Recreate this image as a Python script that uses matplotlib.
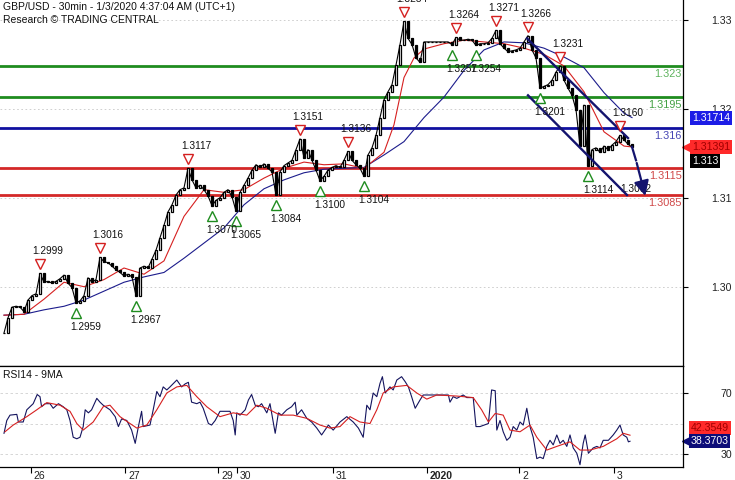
import matplotlib
matplotlib.use("Agg")
import matplotlib.pyplot as plt
import matplotlib.transforms as mtransforms
import numpy as np

plt.rcParams['font.family'] = ['Liberation Sans', 'DejaVu Sans']

# GBP/USD closes, one per hour, Dec 25 evening -> Jan 3 04:30
closes = [1.2930, 1.2947, 1.2959, 1.2960, 1.2959, 1.2954, 1.2967, 1.2972, 1.2974, 1.2997,
          1.2987, 1.2988, 1.2986, 1.2988, 1.2991, 1.2995, 1.2986, 1.2981, 1.2964, 1.2966,
          1.2972, 1.2992, 1.2987, 1.2990, 1.3015, 1.3010, 1.3009, 1.3005, 1.3001, 1.2998,
          1.2994, 1.2996, 1.2993, 1.2972, 1.3003, 1.3005, 1.3003, 1.3013, 1.3023, 1.3037,
          1.3051, 1.3066, 1.3074, 1.3085, 1.3091, 1.3093, 1.3115, 1.3102, 1.3093, 1.3096,
          1.3091, 1.3084, 1.3073, 1.3079, 1.3082, 1.3088, 1.3091, 1.3083, 1.3067, 1.3088,
          1.3096, 1.3104, 1.3113, 1.3119, 1.3116, 1.3120, 1.3115, 1.3111, 1.3085, 1.3111,
          1.3118, 1.3121, 1.3124, 1.3136, 1.3148, 1.3127, 1.3136, 1.3124, 1.3113, 1.3101,
          1.3106, 1.3113, 1.3116, 1.3118, 1.3116, 1.3124, 1.3134, 1.3124, 1.3119, 1.3115,
          1.3106, 1.3130, 1.3138, 1.3152, 1.3172, 1.3192, 1.3201, 1.3209, 1.3231, 1.3254,
          1.3280, 1.3261, 1.3254, 1.3239, 1.3234, 1.3257, 1.3257, 1.3257, 1.3257, 1.3257,
          1.3257, 1.3257, 1.3254, 1.3262, 1.3259, 1.3259, 1.3260, 1.3259, 1.3253, 1.3255,
          1.3255, 1.3256, 1.3261, 1.3270, 1.3255, 1.3250, 1.3246, 1.3247, 1.3248, 1.3250,
          1.3257, 1.3264, 1.3248, 1.3239, 1.3205, 1.3207, 1.3209, 1.3214, 1.3223, 1.3230,
          1.3214, 1.3205, 1.3197, 1.3181, 1.3140, 1.3186, 1.3118, 1.3136, 1.3138, 1.3133,
          1.3140, 1.3136, 1.3141, 1.3145, 1.3152, 1.3147, 1.3142, 1.3139]

# moving averages (red = fast, blue = slow)
ma_fast_x = [0, 5, 10, 15, 20, 25, 30, 35, 40, 45, 50, 55, 60, 65, 70, 75, 80, 85, 90, 95,
             97.5, 100, 102.5, 105, 110, 115, 120, 125, 130, 135, 140, 145, 150, 155, 157]
ma_fast = [1.2950, 1.2951, 1.2968, 1.2987, 1.2982, 1.2990, 1.3003, 1.2996, 1.3011, 1.3061,
           1.3091, 1.3088, 1.3091, 1.3104, 1.3115, 1.3122, 1.3119, 1.3120, 1.3115, 1.3133,
           1.3164, 1.3217, 1.3239, 1.3249, 1.3255, 1.3259, 1.3257, 1.3255, 1.3250, 1.3243,
           1.3230, 1.3201, 1.3156, 1.3140, 1.3139]
ma_slow_x = [0, 5, 10, 15, 20, 25, 30, 35, 40, 45, 50, 55, 60, 65, 70, 75, 80, 85, 90, 95,
             100, 105, 110, 115, 120, 125, 130, 135, 140, 145, 150, 155, 157]
ma_slow = [1.2950, 1.2951, 1.2956, 1.2960, 1.2967, 1.2977, 1.2987, 1.2993, 1.2998, 1.3014,
           1.3031, 1.3048, 1.3074, 1.3092, 1.3102, 1.3110, 1.3114, 1.3115, 1.3116, 1.3130,
           1.3145, 1.3172, 1.3195, 1.3225, 1.3248, 1.3257, 1.3256, 1.3250, 1.3240, 1.3228,
           1.3200, 1.3177, 1.3172]

# support / resistance levels
levels = [1.323, 1.3195, 1.316, 1.3115, 1.3085]
level_labels = ['1.323', '1.3195', '1.316', '1.3115', '1.3085']
level_colors = ['#1f8c1f', '#1f8c1f', '#1010a0', '#d42828', '#d42828']
level_text_colors = ['#5cb25c', '#44a044', '#4646b4', '#d04848', '#d04848']

# swing highs / lows: bar index, label
highs_idx = [9, 24, 46, 74, 86, 100, 113, 123, 131, 139, 154]
highs_lbl = ['1.2999', '1.3016', '1.3117', '1.3151', '1.3136', '1.3284', '1.3264',
             '1.3271', '1.3266', '1.3231', '1.3160']
lows_idx = [18, 33, 52, 58, 68, 79, 90, 112, 118, 134, 146]
lows_lbl = ['1.2959', '1.2967', '1.3070', '1.3065', '1.3084', '1.3100', '1.3104',
            '1.3257', '1.3254', '1.3201', '1.3114']

# down channel and projection
chan_up_x, chan_up_y = [130.75, 156], [1.3261, 1.3149]
chan_lo_x, chan_lo_y = [131, 155.75], [1.3197, 1.3085]
proj_x, proj_y = [157, 158, 160.5], [1.3139, 1.3124, 1.3081]

# RSI14 and its 9MA
rsi_x = [0.0, 0.7, 1.5, 3.2, 3.6, 4.8, 5.7, 7.3, 8.3, 9.0, 9.4, 10.3, 11.5, 12.3, 13.6,
         14.8, 15.7, 16.5, 17.3, 18.2, 19.0, 19.8, 20.3, 21.1, 21.9, 23.2, 24.0, 24.8,
         26.5, 27.8, 28.6, 29.4, 30.7, 31.9, 32.8, 33.6, 34.4, 34.8, 36.5, 37.3, 38.2,
         39.0, 39.8, 40.7, 41.5, 43.2, 44.4, 45.3, 46.1, 46.9, 48.2, 49.0, 49.8, 51.1,
         51.9, 52.8, 54.0, 56.5, 57.3, 57.8, 58.2, 59.0, 60.3, 61.1, 61.9, 62.8, 63.6,
         64.4, 65.7, 66.5, 67.8, 68.6, 69.4, 70.7, 71.9, 72.8, 73.2, 74.4, 75.7, 76.9,
         78.2, 79.4, 81.1, 82.3, 84.0, 85.7, 87.3, 88.6, 89.8, 90.7, 91.5, 92.3, 93.2,
         94.0, 94.6, 95.3, 96.5, 97.3, 98.2, 99.4, 100.3, 101.1, 101.9, 102.8, 104.0,
         104.8, 108.2, 111.1, 111.5, 112.3, 113.2, 114.8, 115.7, 117.3, 118.0, 119.0,
         121.1, 121.9, 122.8, 123.2, 124.0, 124.8, 125.7, 126.5, 127.3, 128.2, 129.0,
         129.8, 130.7, 131.5, 132.3, 133.2, 134.0, 134.8, 135.7, 136.5, 137.3, 138.2,
         139.0, 139.8, 140.7, 141.5, 142.3, 143.2, 144.0, 144.8, 145.3, 146.1, 147.3,
         148.2, 149.0, 149.8, 151.1, 152.3, 153.2, 154.0, 154.8, 155.7, 156.1, 156.5]
rsi = [43.6, 52, 55.5, 56, 51, 51, 59, 63, 69, 67.6, 61, 63, 63, 60, 63,
       61, 59, 52, 41, 40, 41, 48, 59, 57, 59, 66.5, 64, 62,
       59, 54.5, 48, 53, 52, 45.7, 37, 48, 58, 48, 49, 59, 71,
       67.6, 74, 72, 74, 78.5, 74, 76, 77, 64, 63, 64, 60, 50,
       49, 52, 58, 58, 52, 42.5, 57, 55.5, 59, 65.4, 69, 62, 61,
       63, 57, 63, 43.6, 57, 55.5, 59, 61, 64, 55.5, 59, 53.4, 51,
       47, 42.5, 49, 45.7, 51, 54.5, 51, 47, 41, 62, 59, 70, 67.6,
       76.3, 80.7, 70, 74, 72, 78.5, 80.7, 77.4, 74, 67.6, 60, 65.4,
       68.7, 68.7, 68.7, 64, 67.6, 66.5, 68.7, 67, 67, 48, 48,
       50, 72, 71.5, 45.7, 52, 44.6, 39, 41, 48, 45.7, 51,
       49, 60, 48, 41, 27, 28, 27, 35, 39, 36, 42.5,
       37, 39, 35, 42.5, 34, 30.5, 23, 37, 42.5, 30.5, 34,
       35, 34, 39, 39, 42.5, 45.7, 49, 42.5, 41, 38, 38.37]
rsi_ma_x = [0.25, 2.3, 5.7, 8.2, 10.7, 14.0, 16.5, 18.2, 19.8, 22.3, 24.8, 26.5, 29.0,
            31.5, 33.2, 35.7, 38.2, 40.7, 43.2, 45.7, 48.2, 50.7, 54.0, 57.3, 60.7, 63.2,
            65.7, 69.0, 72.3, 75.7, 79.0, 81.5, 84.0, 86.5, 89.0, 91.5, 93.2, 94.8, 97.3,
            100.7, 103.2, 105.7, 108.2, 113.2, 117.3, 119.4, 121.1, 122.8, 124.8, 126.5,
            129.0, 131.5, 133.2, 135.7, 138.2, 141.5, 144.0, 146.5, 149.8, 153.2, 154.8, 156.5]
rsi_ma = [44.6, 49, 54.5, 59, 63.7, 62, 58, 50, 45.7, 51, 61, 62, 54.5,
          50, 47, 49, 59, 70, 74, 75, 67.6, 61, 54.5, 57, 55.5, 62,
          60, 55.5, 55.5, 53.4, 49, 47, 48, 54.5, 51, 50, 59, 70, 74,
          75, 70, 66, 68.7, 68, 67, 59, 51, 56.6, 55.5, 45.7,
          44.6, 49, 41, 32.6, 35, 38, 32.6, 32.6, 35, 40, 43.6, 42.35]

# time axis (hour index of each day start)
day_pos = [6.7, 30.25, 53.5, 58.25, 82.25, 105.75, 128.75, 152.5]
day_labels = ['26', '27', '29', '30', '31', '2020', '2', '3']

price_ticks = [1.30, 1.31, 1.32, 1.33]
tick_shift = -0.00184   # the source draws its price scale slightly offset

W, H = 735, 480
fig = plt.figure(figsize=(W / 100, H / 100), dpi=100)
ax = fig.add_axes([0, 1 - 366 / H, 683 / W, 366 / H])
ax2 = fig.add_axes([0, 1 - 467 / H, 683 / W, 101 / H], sharex=ax)

x = np.arange(len(closes))
c = np.array(closes)
o = np.concatenate([[c[0]], c[:-1]])

ax.set_xlim(-1, 169.75)
ax.set_ylim(1.28929, 1.33041)

for t in price_ticks:
    ax.axhline(t + tick_shift, color='#c8c8c8', lw=0.6, ls=(0, (2, 3)), zorder=0)

for lv, col in zip(levels, level_colors):
    ax.axhline(lv, color=col, lw=2.0, zorder=1)

ax.plot(ma_slow_x, ma_slow, color='#1c1c8c', lw=0.8, zorder=2)
ax.plot(ma_fast_x, ma_fast, color='#d62020', lw=0.8, zorder=2)

# candles: open = previous close
up = c >= o
bot = np.minimum(o, c)
hgt = np.abs(c - o)
ax.plot(x, c, color='black', lw=0.8, zorder=3)
ax.bar(x[up], hgt[up], bottom=bot[up], width=0.55, color='white', edgecolor='black', lw=0.9, zorder=3)
ax.bar(x[~up], hgt[~up], bottom=bot[~up], width=0.55, color='black', edgecolor='black', lw=0.9, zorder=3)

ax.plot(chan_up_x, chan_up_y, color='#14146e', lw=1.7, zorder=4)
ax.plot(chan_lo_x, chan_lo_y, color='#14146e', lw=1.7, zorder=4)
ax.plot(proj_x[:2], proj_y[:2], color='#14146e', lw=1.6, zorder=4)
ax.annotate('', xy=(proj_x[2], proj_y[2]), xytext=(proj_x[1], proj_y[1]),
            arrowprops=dict(arrowstyle='-|>,head_length=0.9,head_width=0.45', color='#14146e', lw=1.6),
            zorder=4)

tr_hi = mtransforms.offset_copy(ax.transData, fig=fig, x=0, y=9, units='dots')
tr_lo = mtransforms.offset_copy(ax.transData, fig=fig, x=0, y=-10, units='dots')
for i, lbl in zip(highs_idx, highs_lbl):
    ax.plot(i, closes[i], marker='v', ms=7.5, mfc='white', mec='#d42020', mew=1.0,
            transform=tr_hi, zorder=5)
    ax.annotate(lbl, (i, closes[i]), xytext=(8, 22), textcoords='offset pixels',
                ha='center', va='center', fontsize=7.3, color='#111111', zorder=6)
for i, lbl in zip(lows_idx, lows_lbl):
    ax.plot(i, closes[i], marker='^', ms=7.5, mfc='white', mec='#1f8c1f', mew=1.0,
            transform=tr_lo, zorder=5)
    ax.annotate(lbl, (i, closes[i]), xytext=(10, -24), textcoords='offset pixels',
                ha='center', va='center', fontsize=7.3, color='#111111', zorder=6)
ax.annotate('1.3092', (proj_x[2], 1.3092), xytext=(-10, 0), textcoords='offset pixels',
            ha='center', va='center', fontsize=7.3, color='#111111', zorder=3)

for lv, lbl, col in zip(levels, level_labels, level_text_colors):
    ax.annotate(lbl, (1, lv), xycoords=('axes fraction', 'data'), xytext=(-1, -3),
                textcoords='offset pixels', ha='right', va='top', fontsize=7.8, color=col, zorder=6)

# right price scale
ax.yaxis.tick_right()
ax.set_yticks([t + tick_shift for t in price_ticks])
ax.set_yticklabels([f'{t:.2f}' for t in price_ticks])
ax.tick_params(axis='y', direction='out', length=3.6, width=0.8, pad=31.5,
               labelsize=7.6, labelcolor='#222222')
for lb in ax.get_yticklabels():
    lb.set_ha('right')
ax.tick_params(axis='x', bottom=False, labelbottom=False)
for s in ['left', 'top']:
    ax.spines[s].set_visible(False)
for s in ['right', 'bottom']:
    ax.spines[s].set_linewidth(0.9)

# price badges on the right
badge_tr = mtransforms.blended_transform_factory(ax.transAxes, ax.transData)
ax.annotate('1.31714', (1.013, 1.31714), xycoords=badge_tr, ha='left', va='center',
            fontsize=7.6, color='white', annotation_clip=False,
            bbox=dict(boxstyle='square,pad=0.18', fc='#1c1ce6', ec='none'))
ax.annotate('1.31391', (1.013, 1.31391), xycoords=badge_tr, ha='left', va='center',
            fontsize=7.6, color='#a00000', annotation_clip=False,
            bbox=dict(boxstyle='square,pad=0.18', fc='#ff2a2a', ec='none'))
ax.plot([1.0055], [1.31391], marker='<', ms=7.5, color='#ff2a2a', transform=badge_tr, clip_on=False)
ax.annotate('1.313', (1.013, 1.3130), xycoords=badge_tr, xytext=(0, -6),
            textcoords='offset pixels', ha='left', va='center', fontsize=7.6, color='white',
            annotation_clip=False, bbox=dict(boxstyle='square,pad=0.18', fc='black', ec='none'))

fig.text(3 / W, 1 - 2 / H, 'GBP/USD - 30min - 1/3/2020 4:37:04 AM (UTC+1)',
         va='top', ha='left', fontsize=7.5, color='#111111')
fig.text(3 / W, 1 - 15 / H, 'Research \u00a9 TRADING CENTRAL',
         va='top', ha='left', fontsize=7.5, color='#111111')

# RSI panel
ax2.set_ylim(21.5, 87.7)
for lv in [30, 50, 70]:
    ax2.axhline(lv, color='#d0d0d0', lw=0.6, ls=(0, (3, 3)), zorder=0)
ax2.plot(rsi_x, rsi, color='#14145e', lw=0.8, zorder=2)
ax2.plot(rsi_ma_x, rsi_ma, color='#d62020', lw=0.8, zorder=3)
ax2.yaxis.tick_right()
ax2.set_yticks([30, 70])
ax2.tick_params(axis='y', direction='out', length=3.6, width=0.8, pad=31.5,
                labelsize=7.6, labelcolor='#222222')
for lb in ax2.get_yticklabels():
    lb.set_ha('right')
ax2.set_xticks(day_pos)
ax2.tick_params(axis='x', direction='out', length=4.5, width=0.8, labelbottom=False)
ax2.spines['left'].set_visible(False)
for s in ['right', 'bottom', 'top']:
    ax2.spines[s].set_linewidth(0.9)
for p, lbl in zip(day_pos, day_labels):
    ax2.annotate(lbl, (p, 0), xycoords=('data', 'axes fraction'), xytext=(3, -4),
                 textcoords='offset pixels', ha='left', va='top', fontsize=7.5,
                 color='#222222', fontweight='bold' if lbl == '2020' else 'normal',
                 annotation_clip=False)
ax2.text(3 / 683, 1 - 4 / 101, 'RSI14 - 9MA', transform=ax2.transAxes, va='top',
         ha='left', fontsize=7.5, color='#111111')

rb_tr = mtransforms.blended_transform_factory(ax2.transAxes, ax2.transData)
ax2.annotate('42.3549', (1.011, 42.3549), xycoords=rb_tr, xytext=(0, 7),
             textcoords='offset pixels', ha='left', va='center', fontsize=7.6,
             color='#a00000', annotation_clip=False,
             bbox=dict(boxstyle='square,pad=0.18', fc='#ff2a2a', ec='none'))
ax2.annotate('38.3703', (1.011, 38.3703), xycoords=rb_tr, ha='left', va='center',
             fontsize=7.6, color='white', annotation_clip=False,
             bbox=dict(boxstyle='square,pad=0.18', fc='#0c0c78', ec='none'))
ax2.plot([1.0055], [38.3703], marker='<', ms=7.5, color='#0c0c78', transform=rb_tr, clip_on=False)

fig.savefig('out.png', dpi=100)
